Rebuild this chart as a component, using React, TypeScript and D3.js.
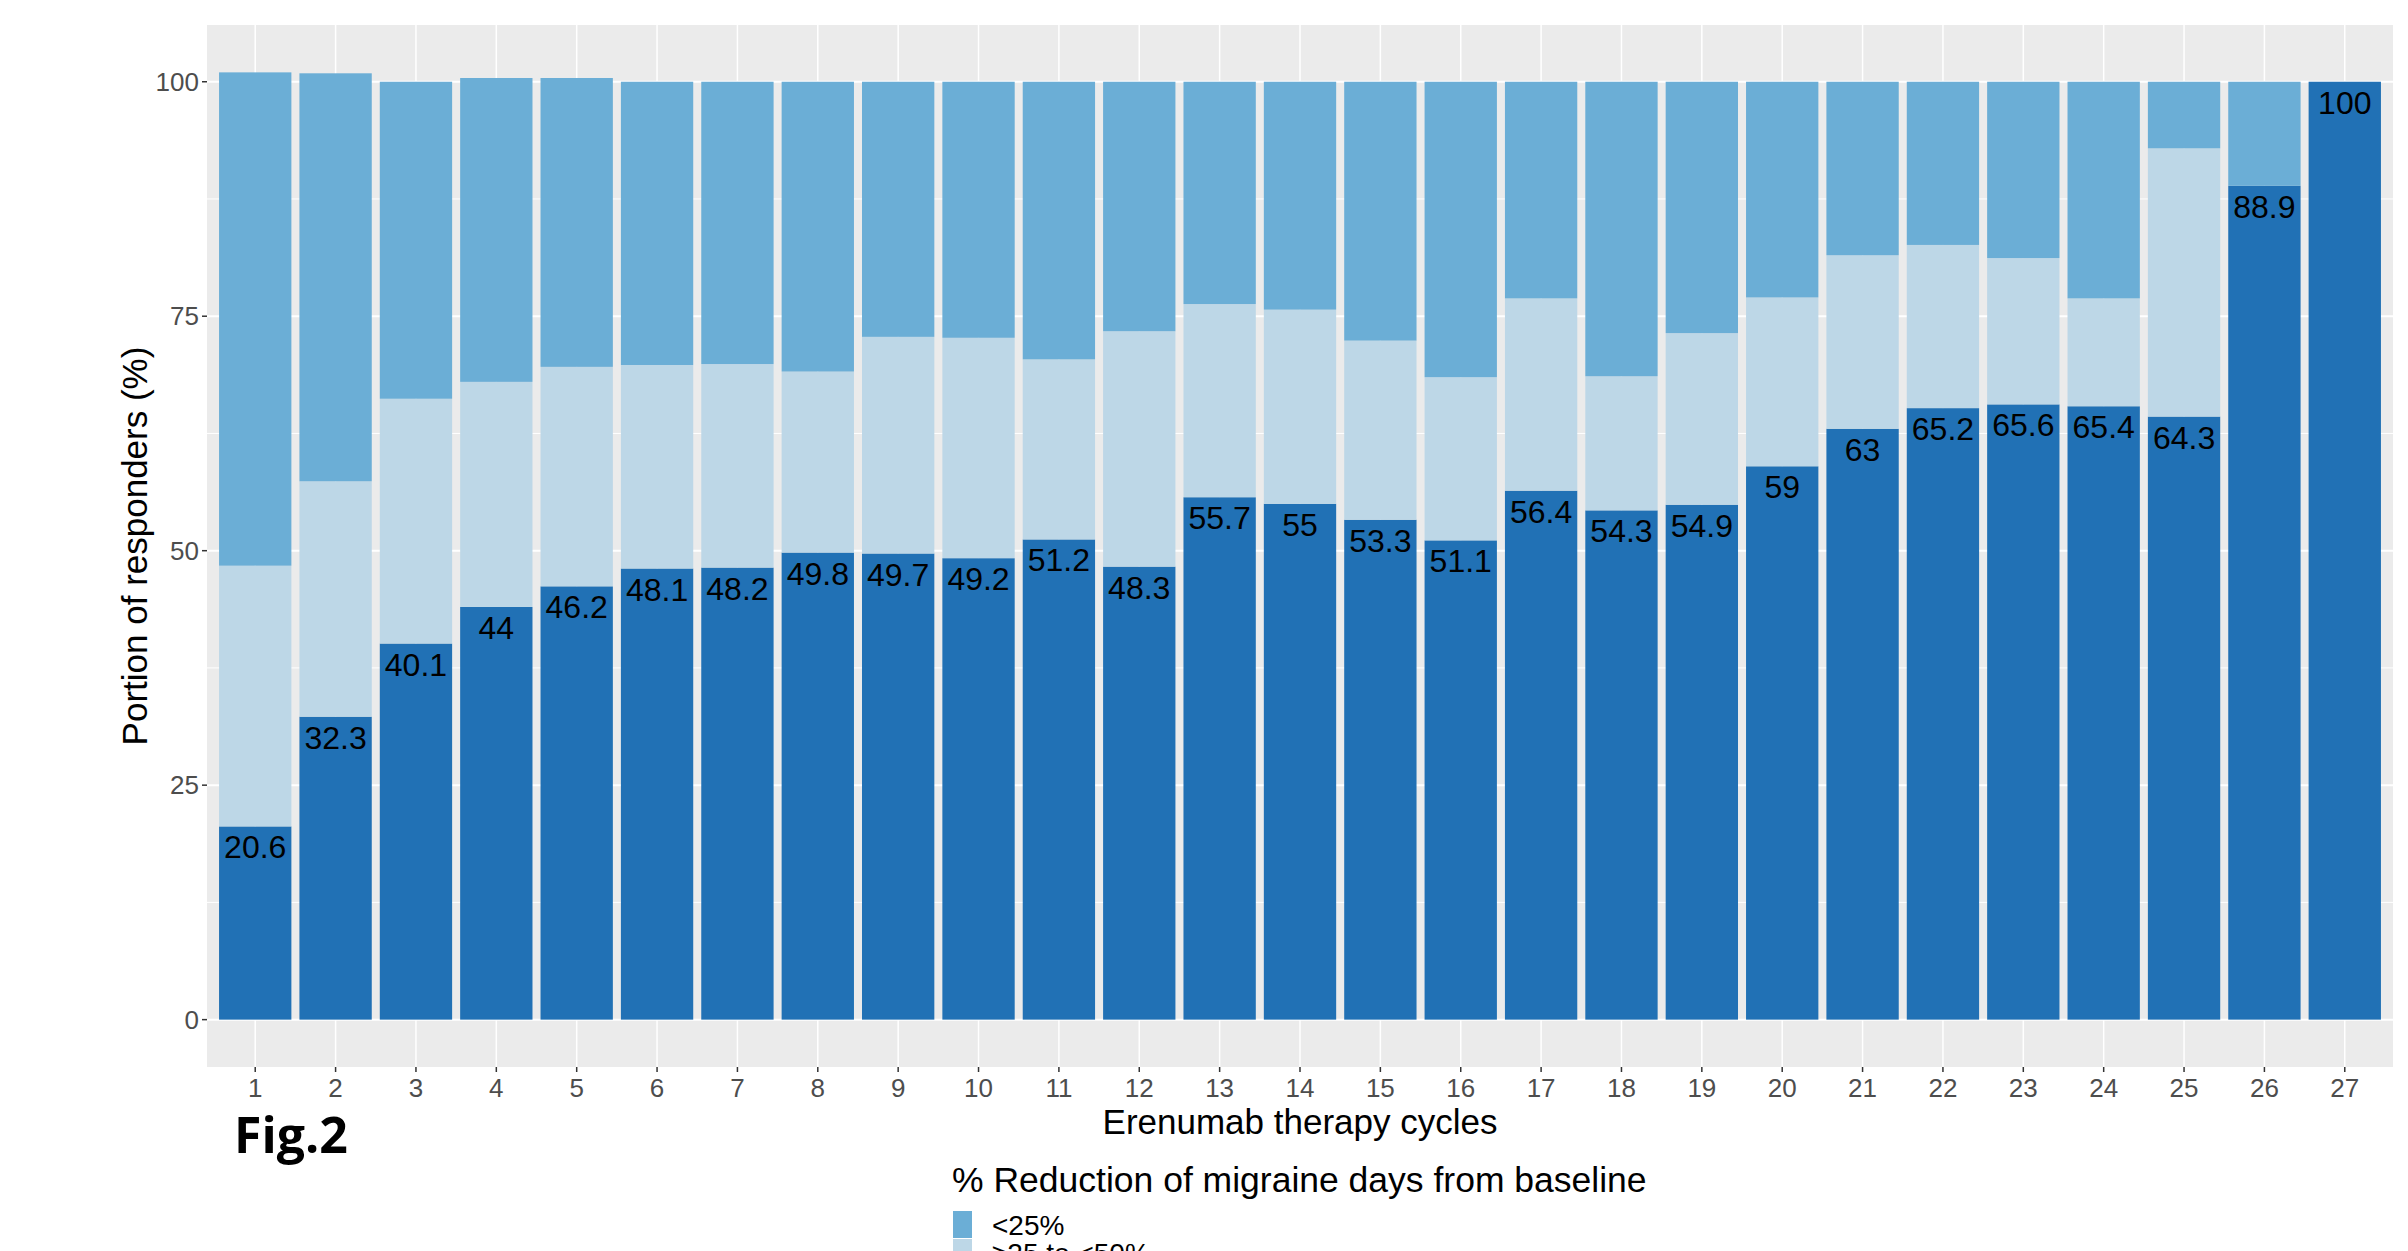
import React from 'react';
import * as d3 from 'd3';

// Erenumab responder rates per therapy cycle (% of patients)
const cycles = Array.from({ length: 27 }, (_, i) => String(i + 1));
const above50 = [20.6, 32.3, 40.1, 44, 46.2, 48.1, 48.2, 49.8, 49.7, 49.2, 51.2, 48.3, 55.7, 55, 53.3, 51.1, 56.4, 54.3, 54.9, 59, 63, 65.2, 65.6, 65.4, 64.3, 88.9, 100];
const from25to50 = [27.8, 25.1, 26.1, 24.0, 23.4, 21.7, 21.7, 19.3, 23.1, 23.5, 19.2, 25.1, 20.6, 20.7, 19.1, 17.4, 20.5, 14.3, 18.3, 18.0, 18.5, 17.4, 15.6, 11.5, 28.6, 0, 0];
const below25 = [52.6, 43.5, 33.8, 32.4, 30.8, 30.2, 30.1, 30.9, 27.2, 27.3, 29.6, 26.6, 23.7, 24.3, 27.6, 31.5, 23.1, 31.4, 26.8, 23.0, 18.5, 17.4, 18.8, 23.1, 7.1, 11.1, 0];

const seriesKeys = ['above50', 'mid', 'below25'];
const seriesColors: Record<string, string> = { above50: '#2171B5', mid: '#BDD7E7', below25: '#6BAED6' };
const legendItems = [
  { label: '<25%', color: '#6BAED6' },
  { label: '\u226525 to <50%', color: '#BDD7E7' },
  { label: '\u226550%', color: '#2171B5' },
];
const yTicks = [0, 25, 50, 75, 100];
const yMinor = [12.5, 37.5, 62.5, 87.5];

const W = 2408;
const H = 1251;
const panel = { left: 207, right: 2393, top: 25, bottom: 1067 };
const font = '"Liberation Sans", Arial, sans-serif';

export default function App() {
  const rows = cycles.map((c, i) => ({ cycle: c, above50: above50[i], mid: from25to50[i], below25: below25[i] }));
  const stacked = d3.stack<any>().keys(seriesKeys)(rows);
  const maxTotal = d3.max(rows, d => d.above50 + d.mid + d.below25) as number;

  const x = d3.scaleBand().domain(cycles).range([panel.left, panel.right]).paddingInner(0.1).paddingOuter(0.15);
  const y = d3.scaleLinear().domain([-0.05 * maxTotal, maxTotal * 1.05]).range([panel.bottom, panel.top]);
  const cx = (c: string) => (x(c) as number) + x.bandwidth() / 2;

  return (
    <svg width={W} height={H} style={{ position: 'absolute', left: 0, top: 0, background: '#fff' }}>
      <rect x={panel.left} y={panel.top} width={panel.right - panel.left} height={panel.bottom - panel.top} fill="#EBEBEB" />

      {/* grid */}
      {yMinor.map(t => (
        <line key={'mn' + t} x1={panel.left} x2={panel.right} y1={y(t)} y2={y(t)} stroke="#fff" strokeWidth={1} />
      ))}
      {yTicks.map(t => (
        <line key={'mj' + t} x1={panel.left} x2={panel.right} y1={y(t)} y2={y(t)} stroke="#fff" strokeWidth={2} />
      ))}
      {cycles.map(c => (
        <line key={'vx' + c} x1={cx(c)} x2={cx(c)} y1={panel.top} y2={panel.bottom} stroke="#fff" strokeWidth={1.5} />
      ))}

      {/* stacked bars */}
      {stacked.map(s => (
        <g key={s.key} fill={seriesColors[s.key]}>
          {s.map((d, i) => (
            <rect
              key={i}
              x={x(cycles[i])}
              width={x.bandwidth()}
              y={y(d[1])}
              height={Math.max(0, y(d[0]) - y(d[1]))}
            />
          ))}
        </g>
      ))}

      {/* labels of >=50% share */}
      {rows.map(r => (
        <text
          key={'lb' + r.cycle}
          x={cx(r.cycle)}
          y={y(r.above50) + 21}
          textAnchor="middle"
          dominantBaseline="central"
          fontFamily={font}
          fontSize={32}
          fill="#000"
        >
          {r.above50}
        </text>
      ))}

      {/* y axis */}
      {yTicks.map(t => (
        <g key={'yt' + t}>
          <line x1={panel.left - 5} x2={panel.left} y1={y(t)} y2={y(t)} stroke="#333" strokeWidth={1.5} />
          <text x={panel.left - 8} y={y(t)} textAnchor="end" dominantBaseline="central" fontFamily={font} fontSize={26} fill="#4D4D4D">
            {t}
          </text>
        </g>
      ))}

      {/* x axis */}
      {cycles.map(c => (
        <g key={'xt' + c}>
          <line x1={cx(c)} x2={cx(c)} y1={panel.bottom} y2={panel.bottom + 5} stroke="#333" strokeWidth={1.5} />
          <text x={cx(c)} y={panel.bottom + 21} textAnchor="middle" dominantBaseline="central" fontFamily={font} fontSize={26} fill="#4D4D4D">
            {c}
          </text>
        </g>
      ))}

      <text
        transform={`translate(134,${(panel.top + panel.bottom) / 2}) rotate(-90)`}
        textAnchor="middle"
        dominantBaseline="central"
        fontFamily={font}
        fontSize={35}
        fill="#000"
      >
        Portion of responders (%)
      </text>
      <text x={(panel.left + panel.right) / 2} y={1121} textAnchor="middle" dominantBaseline="central" fontFamily={font} fontSize={35} fill="#000">
        Erenumab therapy cycles
      </text>

      <text x={234} y={1153} fontFamily="'Open Sans', Lato, sans-serif" fontWeight={700} fontSize={50} fill="#000">
        Fig.2
      </text>

      {/* legend */}
      <text x={952} y={1180} dominantBaseline="central" fontFamily={font} fontSize={35.5} fill="#000">
        % Reduction of migraine days from baseline
      </text>
      {legendItems.map((it, i) => (
        <g key={it.label} transform={`translate(953,${1211 + i * 28})`}>
          <rect width={19} height={27} fill={it.color} />
          <text x={39} y={14} dominantBaseline="central" fontFamily={font} fontSize={28} fill="#000">
            {it.label}
          </text>
        </g>
      ))}
    </svg>
  );
}
